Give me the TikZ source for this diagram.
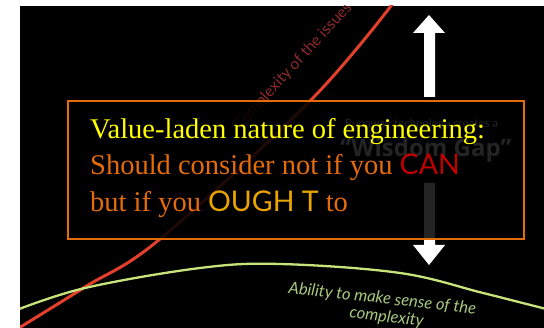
\documentclass[tikz,border=0pt]{standalone}
\usepackage{fontspec}
\setmainfont{Liberation Serif}
\newfontfamily\gill{Lato}
\newfontfamily\gillb{Open Sans}
\definecolor{pptorange}{HTML}{E46C0A}
\definecolor{pptyellow}{HTML}{FFFF00}
\definecolor{cancol}{HTML}{C00000}
\definecolor{oughtcol}{HTML}{E8A400}
\definecolor{redcurve}{HTML}{E2402A}
\definecolor{redlabel}{HTML}{8E2A2A}
\definecolor{greencurve}{HTML}{C6E47A}
\definecolor{greenlabel}{HTML}{A9C97E}
\tikzset{
  mainline/.style={anchor=base west, inner sep=0pt, font=\fontsize{28.5}{28.5}\selectfont},
  bigarrow/.style={fill=white},
  greentext/.style={greenlabel, rotate=-6.5, font=\gill\itshape\fontsize{16.5}{16.5}\selectfont, inner sep=0pt},
}
\begin{document}
\begin{tikzpicture}[x=1pt,y=-1pt]
\useasboundingbox (0,0) rectangle (544,328);
\fill[white] (0,0) rectangle (544,328);
\fill[black] (20,6) rectangle (544,328);
\begin{scope}
\clip (20,6) rectangle (544,328);
% red complexity curve
\draw[redcurve, line width=3pt, line cap=round] plot[smooth, tension=0.6] coordinates {(14,331) (85,287) (160,239) (310,101) (394,2)};
\node[redlabel, rotate=47.5, anchor=base west, inner sep=0pt, font=\gill\fontsize{15.5}{15.5}\selectfont] (rl) at (240,131) {Complexity of the issues};
% green ability curve
\draw[greencurve, line width=2.3pt] plot[smooth, tension=0.6] coordinates {(14,311) (85,288) (200,268) (280,264) (400,273) (483,293) (550,310)};
\node[greentext, anchor=base west] (gl1) at (288,293) {Ability to make sense of the};
\node[greentext, anchor=base] (gl2) at (386,322) {complexity};
% arrows
\fill[bigarrow] (424,97) -- (424,33) -- (413,33) -- (429,15) -- (445,33) -- (435,33) -- (435,97) -- cycle;
\fill[bigarrow] (424,183) -- (424,245) -- (413,245) -- (429,265) -- (445,245) -- (435,245) -- (435,183) -- cycle;
% dim text behind box
\node[white, anchor=base west, inner sep=0pt, font=\gill\fontsize{11.5}{11.5}\selectfont] (rw) at (345,128) {Runaway technology creates a};
\node[white, anchor=base west, inner sep=0pt, font=\gillb\bfseries\fontsize{24}{24}\selectfont] (wg) at (340,157) {“Wisdom Gap”};
\end{scope}
% text box
\draw[pptorange, line width=1.2pt, fill=black, fill opacity=0.86] (68,101) rectangle (524,239);
\node[mainline, pptyellow] (l1) at (90,139) {Value-laden nature of engineering:};
\node[mainline, pptorange] (l2) at (90,175) {Should consider not if you \textcolor{cancol}{\gill CAN}};
\node[mainline, pptorange] (l3) at (90,212) {but if you \textcolor{oughtcol}{\gill OUGH T} to};
\end{tikzpicture}
\end{document}
